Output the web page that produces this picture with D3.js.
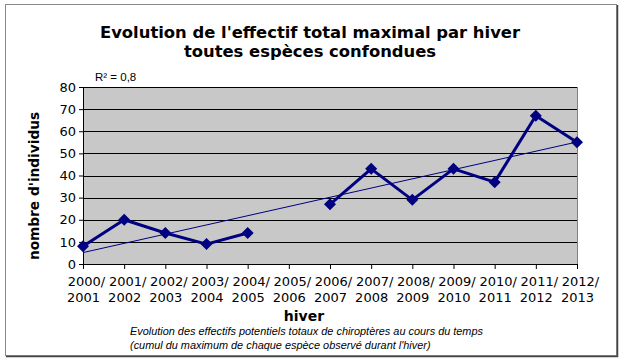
<!DOCTYPE html>
<html>
<head>
<meta charset="utf-8">
<script src="https://cdn.jsdelivr.net/npm/d3@7"></script>
<style>
  body { margin: 0; background: #fff; }
</style>
</head>
<body>
<svg id="chart" width="622" height="361"></svg>
<script>
// Winters (categories) and max count per winter (null = no data)
const winters = ["2000/2001", "2001/2002", "2002/2003", "2003/2004", "2004/2005", "2005/2006",
                 "2006/2007", "2007/2008", "2008/2009", "2009/2010", "2010/2011", "2011/2012", "2012/2013"];
const counts = [8, 20, 14, 9, 14, null, 27, 43, 29, 43, 37, 67, 55];
const yTicks = [0, 10, 20, 30, 40, 50, 60, 70, 80];

const margin = { top: 87, left: 83, right: 45, bottom: 97 };
const W = 622, H = 361;
const width = W - margin.left - margin.right;
const height = H - margin.top - margin.bottom;

const svg = d3.select("#chart");

// Outer frame
svg.append("rect").attr("x", 5.5).attr("y", 4.5).attr("width", 611).attr("height", 351)
    .attr("fill", "#fff").attr("stroke", "#8a8a8a").attr("stroke-width", 1);
svg.append("path").attr("d", "M617.5,5V356.5H6").attr("fill", "none").attr("stroke", "#444").attr("stroke-width", 1.5);

// Title
const title = svg.append("text").attr("text-anchor", "middle")
    .attr("font-family", "Verdana, 'DejaVu Sans', sans-serif").attr("font-weight", "bold")
    .attr("font-size", "16.4px").attr("fill", "#000");
title.append("tspan").attr("x", 310).attr("y", 38).text("Evolution de l'effectif total maximal par hiver");
title.append("tspan").attr("x", 310).attr("y", 57).text("toutes espèces confondues");

const g = svg.append("g").attr("transform", `translate(${margin.left},${margin.top})`);

const x = d3.scalePoint().domain(winters).range([0, width]);
const y = d3.scaleLinear().domain([0, 80]).range([height, 0]);

// Plot background
g.append("rect").attr("width", width).attr("height", height).attr("fill", "#c8c8c8");

// Gridlines
g.selectAll(".grid").data(yTicks.filter(d => d > 0)).enter().append("line")
    .attr("x1", 0).attr("x2", width)
    .attr("y1", d => Math.round(y(d)) + 0.5).attr("y2", d => Math.round(y(d)) + 0.5)
    .attr("stroke", "#000").attr("stroke-width", 1);

// Plot border right
g.append("line").attr("x1", width + 0.5).attr("x2", width + 0.5).attr("y1", 0).attr("y2", height)
    .attr("stroke", "#808080");

// Y axis
const yAxis = g.append("g").call(d3.axisLeft(y).tickValues(yTicks).tickSize(4).tickPadding(3));
yAxis.select(".domain").attr("stroke", "#000");
yAxis.selectAll("text").attr("font-family", "Verdana, 'DejaVu Sans', sans-serif")
    .attr("font-size", "13px").attr("fill", "#000");

// X axis
const xAxis = g.append("g").attr("transform", `translate(0,${height})`)
    .call(d3.axisBottom(x).tickSize(5).tickPadding(4).tickFormat(""));
xAxis.select(".domain").attr("stroke", "#000");
xAxis.selectAll(".tick").each(function (d) {
    const parts = d.split("/");
    const t = d3.select(this).append("text").attr("text-anchor", "middle")
        .attr("font-family", "Verdana, 'DejaVu Sans', sans-serif").attr("font-size", "13px")
        .attr("fill", "#000");
    t.append("tspan").attr("x", 3).attr("y", 22).text(parts[0] + "/");
    t.append("tspan").attr("x", 0).attr("y", 38).text(parts[1]);
});

// Linear trend (least squares over available points)
const pts = counts.map((v, i) => ({ i, v })).filter(d => d.v !== null);
const mx = d3.mean(pts, d => d.i), my = d3.mean(pts, d => d.v);
const sxy = d3.sum(pts, d => (d.i - mx) * (d.v - my));
const sxx = d3.sum(pts, d => (d.i - mx) ** 2);
const slope = sxy / sxx, intercept = my - slope * mx;
g.append("line")
    .attr("x1", x(winters[0])).attr("y1", y(intercept))
    .attr("x2", x(winters[winters.length - 1])).attr("y2", y(intercept + slope * (winters.length - 1)))
    .attr("stroke", "#000080").attr("stroke-width", 1);

// Series line
const data = winters.map((w, i) => ({ w, v: counts[i] }));
const line = d3.line().defined(d => d.v !== null).x(d => x(d.w)).y(d => y(d.v));
g.append("path").datum(data).attr("d", line)
    .attr("fill", "none").attr("stroke", "#000080").attr("stroke-width", 3).attr("stroke-linejoin", "round");

// Diamond markers
g.selectAll(".pt").data(data.filter(d => d.v !== null)).enter().append("path")
    .attr("transform", d => `translate(${x(d.w)},${y(d.v)})`)
    .attr("d", "M0,-6L6,0L0,6L-6,0Z").attr("fill", "#000080");

// R² label
svg.append("text").attr("x", 95).attr("y", 81)
    .attr("font-family", "Arial, 'Liberation Sans', sans-serif").attr("font-size", "11.5px")
    .text("R² = 0,8");

// Axis titles
svg.append("text").attr("transform", "translate(39,186) rotate(-90)").attr("text-anchor", "middle")
    .attr("font-family", "Verdana, 'DejaVu Sans', sans-serif").attr("font-weight", "bold")
    .attr("font-size", "13.7px").text("nombre d'individus");
svg.append("text").attr("x", 304).attr("y", 321).attr("text-anchor", "middle")
    .attr("font-family", "Verdana, 'DejaVu Sans', sans-serif").attr("font-weight", "bold")
    .attr("font-size", "14px").text("hiver");

// Caption
const cap = svg.append("text").attr("font-family", "Arial, 'Liberation Sans', sans-serif")
    .attr("font-style", "italic").attr("font-size", "10.9px");
cap.append("tspan").attr("x", 130).attr("y", 335).text("Evolution  des effectifs potentiels totaux de chiroptères au cours du temps");
cap.append("tspan").attr("x", 130).attr("y", 349).text("(cumul du maximum de chaque espèce observé durant l'hiver)");
</script>
</body>
</html>
